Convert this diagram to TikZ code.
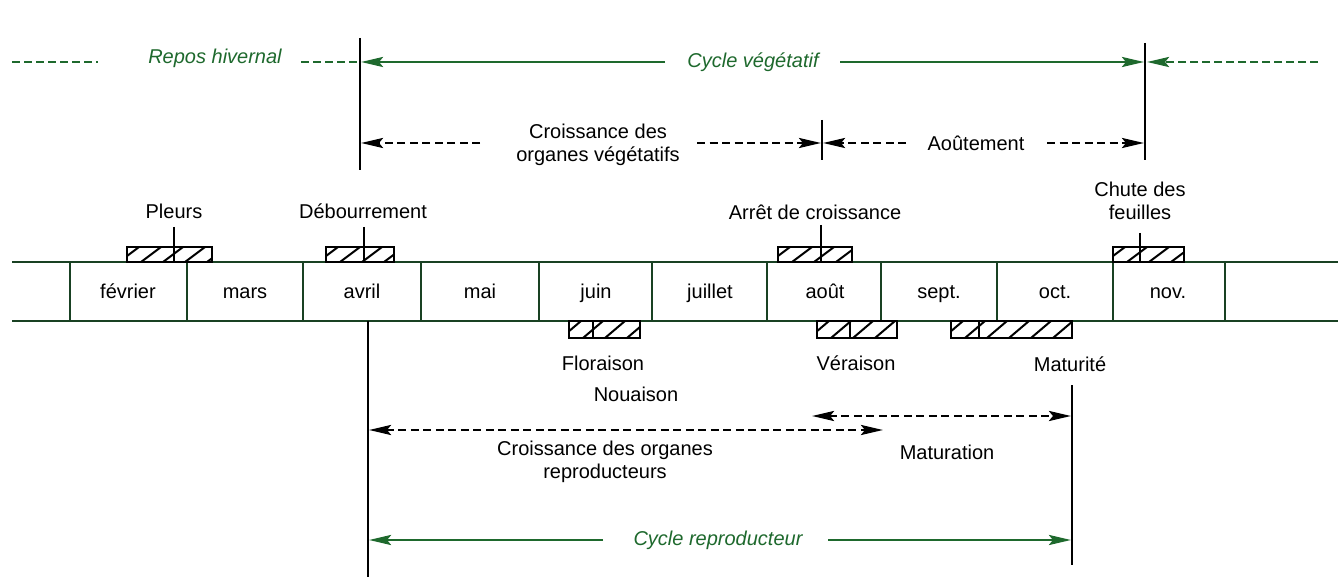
\documentclass[tikz,border=0pt]{standalone}
\usepackage{fontspec}
\setmainfont{Liberation Sans}
\usetikzlibrary{arrows.meta}
\definecolor{vgreen}{RGB}{30,105,45}
\definecolor{bandc}{RGB}{25,65,35}
\newcommand\hatchbox[5]{%
  \begin{scope}
    \clip (#1,#3) rectangle (#2,#4);
    \foreach \k in {-30,-8,...,150} {\draw[hatchl] ({#1+\k},#4) -- ({#1+\k+20},#3);}
  \end{scope}
  \draw[barl] (#1,#4) rectangle (#2,#3);
  \draw[barl] (#5,#3) -- (#5,#4);
}
\begin{document}
\begin{tikzpicture}[x=1pt,y=-1pt,
  lbl/.style={font=\fontsize{20}{23.5}\selectfont, inner sep=0pt, align=center},
  mlbl/.style={font=\fontsize{20}{23.5}\selectfont, inner sep=0pt, anchor=base},
  glbl/.style={font=\fontsize{20}{23.5}\selectfont\itshape, text=vgreen, inner sep=0pt},
  gsolid/.style={draw=vgreen, line width=2.8pt},
  gdash/.style={draw=vgreen, line width=2.8pt, dash pattern=on 8pt off 4pt},
  kdash/.style={draw=black, line width=2.8pt, dash pattern=on 8pt off 4.5pt},
  arrowtip/.style={-{Stealth[length=22pt,width=10pt,inset=4pt]}},
  arrowtips/.style={{Stealth[length=22pt,width=10pt,inset=4pt]}-{Stealth[length=22pt,width=10pt,inset=4pt]}},
  vline/.style={draw=black, line width=2.4pt},
  band/.style={draw=bandc, line width=2.6pt},
  hatchl/.style={draw=black, line width=2pt},
  barl/.style={draw=black, line width=2.4pt},
]
\useasboundingbox (0,0) rectangle (1344,585);
\fill[white] (0,0) rectangle (1344,585);

% band
\draw[band] (12,262) -- (1338,262);
\draw[band] (12,321) -- (1338,321);
\foreach \x in {70,187,303,421,539,652,767,881,997,1113,1225}
  \draw[band] (\x,262) -- (\x,321);

% months
\node[mlbl] (m1) at (128,299) {février};
\node[mlbl] (m2) at (245,299) {mars};
\node[mlbl] (m3) at (362,299) {avril};
\node[mlbl] (m4) at (480,299) {mai};
\node[mlbl] (m5) at (596,299) {juin};
\node[mlbl] (m6) at (710,299) {juillet};
\node[mlbl] (m7) at (825,299) {août};
\node[mlbl] (m8) at (939,299) {sept.};
\node[mlbl] (m9) at (1055,299) {oct.};
\node[mlbl] (m10) at (1168,299) {nov.};

% top hatched bars
\hatchbox{127}{212}{247}{262}{174}
\draw[barl] (174,227) -- (174,262);
\hatchbox{326}{394}{247}{262}{364}
\draw[barl] (364,227) -- (364,262);
\hatchbox{778}{852}{247}{262}{821}
\draw[barl] (821,225) -- (821,262);
\hatchbox{1113}{1184}{247}{262}{1140}
\draw[barl] (1140,233) -- (1140,262);

% bottom hatched bars
\hatchbox{569}{640}{321}{338}{593}
\hatchbox{817}{897}{321}{338}{850}
\hatchbox{951}{1072}{321}{338}{979}

% labels around band
\node[lbl] (pleurs) at (174,211) {Pleurs};
\node[lbl] (debour) at (363,211) {Débourrement};
\node[lbl] (arret) at (815,212) {Arrêt de croissance};
\node[lbl] (chute) at (1140,201) {Chute des\\feuilles};
\node[lbl] (flor) at (603,363) {Floraison};
\node[lbl] (noua) at (636,394) {Nouaison};
\node[lbl] (verai) at (856,363) {Véraison};
\node[lbl] (matu) at (1070,364) {Maturité};

% vertical lines
\coordinate (vLt) at (360,38);  \coordinate (vLb) at (360,170);
\coordinate (vRt) at (1145,43); \coordinate (vRb) at (1145,160);
\coordinate (vMt) at (822,120); \coordinate (vMb) at (822,160);
\coordinate (vBLt) at (368,321); \coordinate (vBLb) at (368,577);
\coordinate (vBRt) at (1072,385); \coordinate (vBRb) at (1072,565);
\draw[vline] (vLt) -- (vLb);
\draw[vline] (vRt) -- (vRb);
\draw[vline] (vMt) -- (vMb);
\draw[vline] (vBLt) -- (vBLb);
\draw[vline] (vBRt) -- (vBRb);

% row 1: cycle vegetatif
\node[glbl] (repos) at (215,58) {Repos hivernal};
\node[glbl] (cycveg) at (753,62) {Cycle végétatif};
\coordinate (a1) at (12,62); \coordinate (a2) at (98,62);
\coordinate (a3) at (301,62); \coordinate (a4) at (359,62);
\coordinate (a5) at (665,62); \coordinate (a6) at (361,62);
\coordinate (a7) at (840,62); \coordinate (a8) at (1144,62);
\coordinate (a9) at (1318,62); \coordinate (a10) at (1147,62);
\draw[gdash] (a1) -- (a2);
\draw[gdash] (a3) -- (a4);
\draw[gsolid,arrowtip] (a5) -- (a6);
\draw[gsolid,arrowtip] (a7) -- (a8);
\draw[gdash,arrowtip] (a9) -- (a10);

% row 2
\node[lbl] (croisveg) at (598,145) {Croissance des\\organes végétatifs};
\node[lbl] (aoutem) at (976,143) {Aoûtement};
\coordinate (b1) at (480,143); \coordinate (b2) at (361,143);
\coordinate (b3) at (697,143); \coordinate (b4) at (821,143);
\coordinate (b5) at (906,143); \coordinate (b6) at (823,143);
\coordinate (b7) at (1047,143); \coordinate (b8) at (1144,143);
\draw[kdash,arrowtip] (b1) -- (b2);
\draw[kdash,arrowtip] (b3) -- (b4);
\draw[kdash,arrowtip] (b5) -- (b6);
\draw[kdash,arrowtip] (b7) -- (b8);

% lower arrows
\coordinate (c1) at (812,416); \coordinate (c2) at (1071,416);
\coordinate (c3) at (369,430); \coordinate (c4) at (883,430);
\draw[kdash,arrowtips] (c1) -- (c2);
\draw[kdash,arrowtips] (c3) -- (c4);
\node[lbl] (croisrep) at (605,462) {Croissance des organes\\reproducteurs};
\node[lbl] (matur) at (947,452) {Maturation};

% cycle reproducteur
\node[glbl] (cycrep) at (718,540) {Cycle reproducteur};
\coordinate (d1) at (603,540); \coordinate (d2) at (369,540);
\coordinate (d3) at (828,540); \coordinate (d4) at (1071,540);
\draw[gsolid,arrowtip] (d1) -- (d2);
\draw[gsolid,arrowtip] (d3) -- (d4);
\end{tikzpicture}
\end{document}
